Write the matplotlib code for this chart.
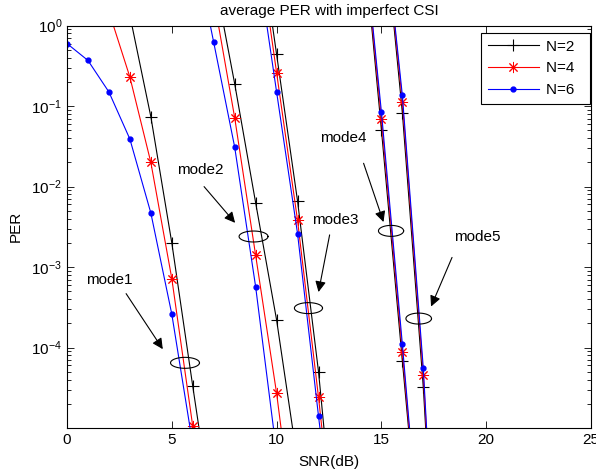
import numpy as np
import matplotlib
matplotlib.use('Agg')
import matplotlib.pyplot as plt
from matplotlib.ticker import LogLocator, NullFormatter

plt.rcParams['font.family'] = ['Liberation Sans', 'DejaVu Sans']
plt.rcParams['font.size'] = 11
plt.rcParams['axes.unicode_minus'] = False
plt.rcParams['mathtext.default'] = 'regular'

nan = np.nan

# mode1
snr_m1 = [0, 1, 2, 3, 4, 5, 6, 7]
per_m1_n2 = [nan, nan, nan, 1.34, 0.074, 2.0e-3, 3.3e-5, 6e-7]
per_m1_n4 = [nan, nan, 1.5, 0.23, 0.020, 7.2e-4, 1.05e-5, nan]
per_m1_n6 = [0.60, 0.37, 0.15, 0.039, 4.7e-3, 2.6e-4, 6.2e-6, nan]

# mode2
snr_m2 = [6, 7, 8, 9, 10, 11]
per_m2_n2 = [nan, 4.5, 0.19, 6.3e-3, 2.2e-4, 3.8e-6]
per_m2_n4 = [nan, 2.2, 0.072, 1.4e-3, 2.7e-5, 2.5e-7]
per_m2_n6 = [12, 0.62, 0.031, 5.7e-4, 4.9e-6, nan]

# mode3
snr_m3 = [9, 10, 11, 12, 13]
per_m3_n2 = [29, 0.44, 6.6e-3, 5.0e-5, 1e-7]
per_m3_n4 = [18, 0.26, 3.8e-3, 2.4e-5, 1e-7]
per_m3_n6 = [9, 0.15, 2.6e-3, 1.4e-5, 1e-7]

# mode4
snr_m4 = [14, 15, 16, 17]
per_m4_n2 = [30, 0.051, 6.8e-5, 1e-7]
per_m4_n4 = [32, 0.069, 8.9e-5, 1e-7]
per_m4_n6 = [34, 0.085, 1.1e-4, 1e-7]

# mode5
snr_m5 = [15, 16, 17, 18]
per_m5_n2 = [40, 0.083, 3.2e-5, 1e-9]
per_m5_n4 = [40, 0.114, 4.5e-5, 1e-9]
per_m5_n6 = [40, 0.136, 5.5e-5, 1e-9]

modes = [
    (snr_m1, per_m1_n2, per_m1_n4, per_m1_n6),
    (snr_m2, per_m2_n2, per_m2_n4, per_m2_n6),
    (snr_m3, per_m3_n2, per_m3_n4, per_m3_n6),
    (snr_m4, per_m4_n2, per_m4_n4, per_m4_n6),
    (snr_m5, per_m5_n2, per_m5_n4, per_m5_n6),
]
labels = ['N=2', 'N=4', 'N=6']

fig = plt.figure(figsize=(5.96, 4.75), dpi=100)
ax = fig.add_axes([67 / 596, 1 - 428 / 475, 524 / 596, 402.3 / 475])

styles = [dict(color='k', marker='+', ms=9, mew=0.8),
          dict(color='r', marker=(8, 2, 0), ms=8, mew=0.7),
          dict(color='b', marker='.', ms=7)]

for i, (x, a, b, c) in enumerate(modes):
    for j, y in enumerate([a, b, c]):
        ax.semilogy(x, y, lw=0.8, label=labels[j] + '  ' if i == 0 else None, **styles[j])

# ellipses and annotations: (text, text pos, arrow start, arrow end, ellipse centre, half width)
notes = [
    ('mode1', (0.9, -3.16), (2.82, -3.33), (4.57, -4.02), (5.63, -4.19), 0.69),
    ('mode2', (5.24, -1.79), (6.54, -2.0), (8.02, -2.45), (8.9, -2.62), 0.69),
    ('mode3', (11.68, -2.42), (12.53, -2.60), (12.0, -3.31), (11.52, -3.51), 0.67),
    ('mode4', (12.08, -1.39), (14.15, -1.71), (15.1, -2.44), (15.46, -2.55), 0.6),
    ('mode5', (18.45, -2.63), (18.37, -2.88), (17.37, -3.49), (16.78, -3.64), 0.61),
]
t = np.linspace(0, 2 * np.pi, 120)
for name, tp, st, en, ec, hw in notes:
    ax.text(tp[0], 10 ** tp[1], name, ha='left', va='center', fontsize=11)
    ax.annotate('', xy=(en[0], 10 ** en[1]), xytext=(st[0], 10 ** st[1]),
                arrowprops=dict(arrowstyle='-|>', color='k', lw=0.8,
                                mutation_scale=16, shrinkA=0, shrinkB=0))
    ax.plot(ec[0] + hw * np.cos(t), 10 ** (ec[1] + 0.068 * np.sin(t)), color='k', lw=0.8)

ax.set_xlim(0, 25)
ax.set_ylim(1e-5, 1)
ax.set_xticks([0, 5, 10, 15, 20, 25])
ax.set_yticks([1e-4, 1e-3, 1e-2, 1e-1, 1])
ax.yaxis.set_minor_locator(LogLocator(base=10, subs=np.arange(2, 10)))
ax.yaxis.set_minor_formatter(NullFormatter())
ax.tick_params(which='both', direction='in', top=True, right=True, labelsize=11)
ax.tick_params(which='major', length=5, width=0.6)
ax.tick_params(which='minor', length=3, width=0.6)
for s in ax.spines.values():
    s.set_linewidth(0.8)

ax.set_title('average PER with imperfect CSI', fontsize=11, pad=8)
ax.set_xlabel('SNR(dB)', fontsize=11, labelpad=6)
ax.set_ylabel('PER', fontsize=11, labelpad=6)

leg = ax.legend(loc='upper right', bbox_to_anchor=(1 - 1 / 524, 1 - 7 / 402),
                borderaxespad=0, fancybox=False, edgecolor='k', framealpha=1,
                handlelength=3.3, handletextpad=0.5, labelspacing=0.5,
                borderpad=0.45, fontsize=11)
leg.get_frame().set_linewidth(0.8)

fig.savefig('out.png', dpi=100)
